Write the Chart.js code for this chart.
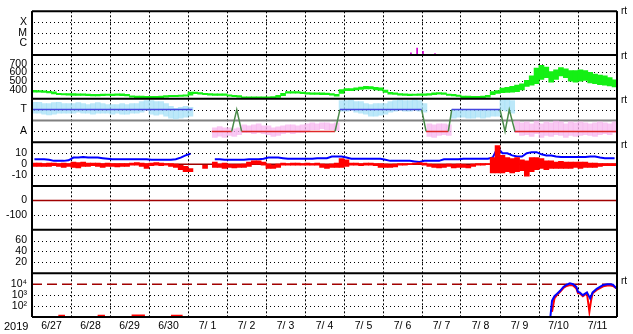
<!DOCTYPE html>
<html>
<head>
<meta charset="utf-8">
<script src="https://cdn.jsdelivr.net/npm/chart.js@4.4.1/dist/chart.umd.min.js"></script>
<style>
  html, body { margin: 0; padding: 0; background: #fff; }
  #wrap { position: relative; width: 633px; height: 334px; }
  #wrap canvas { position: absolute; left: 0; top: 0; }
  .lbl { position: absolute; font: 10px "Liberation Sans", Arial, sans-serif; color: #000; line-height: 12px; }
</style>
</head>
<body>
<div id="wrap">
  <canvas id="chart" width="633" height="334"></canvas>
  <div class="lbl" style="left:4px;top:320px;font-size:11px">2019</div>
  <div class="lbl" style="left:621px;top:5px">rt</div>
  <div class="lbl" style="left:621px;top:50px">rt</div>
  <div class="lbl" style="left:621px;top:94px">rt</div>
  <div class="lbl" style="left:621px;top:139px">rt</div>
  <div class="lbl" style="left:621px;top:275px">rt</div>
</div>
<script>
// time axis: hours since 6/27 00:00, 15 days
const dayLabels = ['6/27', '6/28', '6/29', '6/30', '7/ 1', '7/ 2', '7/ 3', '7/ 4', '7/ 5', '7/ 6', '7/ 7', '7/ 8', '7/ 9', '7/10', '7/11'];
const SPAN_HOURS = 360;
// 3-hour bins (centre hour of each bin)
const binHours = Array.from({ length: 120 }, (_, i) => i * 3 + 1.5);

// solar wind speed, km/s (low / high of each 3 h bin)
const speedLo = [
  375, 375, 372, 365, 355, 345, 342, 340,
  338, 338, 336, 335, 332, 332, 335, 336,
  334, 336, 335, 330, 316, 312, 312, 312,
  310, 310, 312, 318, 322, 322, 325, 328,
  340, 358, 352, 345, 340, 338, 338, 336,
  328, 322, 318, 306, 305, 305, 305, 306,
  305, 306, 315, 335, 362, 364, 362, 358,
  350, 348, 348, 346, 345, 340, 328, 360,
  392, 392, 400, 405, 410, 410, 400, 395,
  370, 350, 348, 340, 336, 334, 336, 338,
  338, 340, 346, 350, 348, 336, 332, 326,
  312, 312, 310, 310, 312, 318, 345, 360,
  368, 370, 375, 380, 400, 440, 455, 470,
  520, 540, 490, 520, 560, 540, 500, 490,
  500, 510, 480, 470, 460, 455, 445, 435
];
const speedHi = [
  395, 392, 390, 385, 378, 362, 358, 358,
  358, 356, 354, 352, 350, 350, 352, 352,
  352, 354, 354, 350, 332, 330, 328, 326,
  326, 326, 328, 335, 338, 338, 340, 345,
  375, 376, 370, 362, 358, 356, 356, 354,
  345, 338, 335, 322, 320, 320, 320, 322,
  322, 324, 338, 360, 382, 382, 380, 376,
  368, 366, 366, 366, 364, 358, 348, 405,
  414, 416, 425, 432, 440, 438, 430, 425,
  398, 372, 366, 358, 354, 352, 352, 355,
  356, 358, 366, 370, 366, 352, 348, 342,
  328, 328, 326, 326, 328, 338, 380, 392,
  420, 430, 440, 455, 470, 510, 560, 650,
  680, 660, 610, 630, 655, 640, 620, 620,
  630, 620, 600, 580, 570, 560, 540, 515
];

// IMF angle, degrees (low / high of each 3 h bin)
const phiLo = [
  240, 240, 232, 225, 232, 240, 240, 240,
  240, 248, 240, 240, 232, 240, 240, 240,
  232, 240, 232, 232, 240, 240, 248, 264,
  232, 224, 232, 216, 200, 192, 200, 208,
  216, null, null, null, null, 40, 50, 40,
  56, 48, 64, 80, 80, 72, 80, 72,
  64, 48, 56, 72, 80, 72, 80, 80,
  88, 104, 104, 112, 104, 104, 96, 256,
  256, 264, 248, 240, 232, 216, 216, 224,
  232, 248, 256, 264, 256, 256, 264, 256,
  248, 48, 40, 56, 64, 56, 200, 208,
  208, 200, 200, 208, 200, 208, 216, 216,
  264, 256, 240, 80, 56, 64, 48, 72,
  40, 56, 48, 64, 56, 40, 56, 48,
  56, 64, 56, 48, 64, 72, 64, 80
];
const phiHi = [
  330, 330, 320, 320, 328, 330, 320, 320,
  320, 328, 320, 312, 320, 328, 320, 312,
  312, 312, 320, 312, 320, 320, 336, 344,
  344, 336, 336, 320, 296, 280, 288, 296,
  288, null, null, null, null, 120, 130, 120,
  120, 112, 120, 144, 136, 144, 152, 136,
  136, 120, 128, 136, 144, 144, 136, 144,
  152, 160, 152, 160, 160, 152, 160, 344,
  344, 352, 336, 336, 320, 312, 320, 320,
  320, 336, 344, 352, 344, 344, 352, 344,
  320, 152, 144, 152, 152, 144, 272, 272,
  264, 272, 264, 272, 264, 272, 272, 272,
  352, 360, 344, 176, 160, 168, 152, 176,
  152, 168, 160, 176, 168, 152, 168, 160,
  168, 160, 152, 160, 168, 160, 152, 168
];

// sector polarity: 270 = T, 90 = A
const sectorHours = [0, 98.7, 99, 110.6, 122.9, 126, 129, 186.5, 189.5, 239.8, 242.5, 256.2, 258.3, 288, 291.1, 293.7, 297.2, 360];
const sectorPhi   = [270, 270, null, 90, 90, 270, 90, 90, 270, 270, 90, 90, 270, 270, 90, 270, 90, 90];

// IMF Bz (low / high of each 3 h bin) and Bt, nT
const bzLo = [
  -2, -2, -2, -2, -1.5, -2, -3, -2,
  -3, -3.5, -2, -2, -1.5, -2, -3, -2,
  -2, -2.5, -2, -2, -1, -1, -2, -4,
  -1.5, -1, -1.5, -1, -2, -3, -5, -7,
  -7, null, null, -4, null, -3, -3, -4,
  -3, -3.5, -3, -3, -2, 0, 0, -1,
  -4, -4, -3, -1, -1, -1, -1, -1,
  -1, -1, -1, -3, -4, -3, -3, -3,
  -2, -1, -1, -1.5, -1, -1, -1.5, -3,
  -3, -3, -2.5, -1, -1, -0.5, 0, 0,
  -1, -2, -3, -3.5, -3, -2, -3.5, -3,
  -3, -3.5, -2, -1, -1, -0.5, -8, -8,
  -8, -7, -8, -7, -6, -11, -7, -5,
  -4, -5, -4, -4, -4, -4, -4, -3,
  -4, -3, -3, -3, -2, -1.5, -1.5, -1.5
];
const bzHi = [
  1, 1, 0.5, 1, 1, 0.5, 1, 0.5,
  2, 1.5, 2, 1, 1, 1, 0.5, 1,
  0.5, 0.5, 0.5, 0.5, 1, 1.5, 1, 0.5,
  1, 1.5, 1, 0.5, 0.5, 0, -1, -2,
  -4, null, null, -1, null, 2, 0, 1,
  -0.5, -0.5, -0.5, 0, 2, 3, 3, 2,
  0, -1, 0, 1, 0.5, 1, 1, 0.5,
  1, 0.5, 1, 0, -0.5, 0, 1, 5,
  4, 1, 1, 0.5, 1, 1, 0.5, 0.5,
  0, -0.5, 0, 0.5, 0.5, 0.5, 1, 1.5,
  1, 0, -0.5, -0.5, -0.5, 0, -0.5, 0,
  -0.5, -1, 0, 0.5, 0.5, 0.5, 6, 17,
  8, 6, 5, 6, 4, 3, 6, 6,
  5, 3, 3, 2, 2.5, 2, 2, 2,
  2, 2, 1, 1, 0.5, 0.5, 0.5, 0.5
];
const bt = [
  4.5, 4.5, 4.5, 4, 3, 3, 3, 3.5,
  6, 6, 6.5, 6, 6, 6, 5.5, 5,
  4.5, 4.5, 4.5, 4.5, 4.5, 4.5, 4.5, 4.5,
  4, 4, 4, 4, 4, 4.5, 6, 8,
  9.5, null, null, 6.5, null, 4.5, 4.5, 4,
  4, 4, 4, 4, 4.5, 4.5, 4.5, 5,
  6, 6, 6, 5.5, 5, 5, 5, 5,
  5, 5, 5.5, 5.5, 5.5, 7, 7, 7,
  6, 5, 5, 5, 5, 5, 5, 5,
  4, 3, 3, 3, 3, 3, 2.5, 2,
  3, 3, 3, 3, 4.5, 4.5, 4.5, 4.5,
  5, 5, 5, 5, 5, 5, 6, 15,
  10, 10, 8, 7, 7, 10, 11, 11,
  9, 8, 8, 7, 6.5, 6.5, 6.5, 6.5,
  6.5, 6.5, 7, 7, 6, 5.5, 5.5, 5.5
];

// X-ray flux events, W/m2
const xrayHours = [233.2, 237, 240.6, 248];
const xrayFlux = [1.1e-7, 3.2e-7, 1.6e-7, 9.5e-8];
const XRAY_FLOOR = 7e-8;

// electron flux
const eBlueHours = [319, 320, 321.5, 323, 325, 327, 329, 331, 333, 335, 336, 337, 339, 341.5, 343.5, 345, 347.5, 349.5, 351.5, 354, 356, 357.5, 360];
const eBlue = [10, 300, 800, 1300, 2500, 5700, 9000, 12000, 10000, 5700, 2000, 1800, 1000, 1800, 500, 1800, 3800, 5700, 8500, 10000, 10000, 9000, 3800];
const eRedHours = [16.2, 20.3, 21, 40.4, 44.9, 45.5, 61.3, 69.5, 70, 85.5, 92.7, 93, 320, 321.5, 323, 325, 327, 329, 331, 333, 335, 336, 337, 339, 341.5, 343, 344, 345, 347.5, 349.5, 351.5, 354, 356, 357.5, 360];
const eRed = [13, 13, null, 13, 13, null, 14, 14, null, 13, 13, null, 30, 500, 1000, 2000, 4500, 7000, 8500, 7500, 4000, 1500, 1500, 800, 1500, 30, 300, 1500, 3000, 4500, 6500, 7500, 7500, 7000, 4000];
const E_ALERT = 10000;

const FONT = { family: '"Liberation Sans", Arial, sans-serif', size: 10.5 };
const PANEL_IDS = ['yX', 'yV', 'yP', 'yB', 'yD', 'yK', 'yE'];
// dotted guide lines per panel (values where no reference line is drawn)
const DOTTED = { yX: [1e-6, 1e-5, 1e-4], yV: [400, 500, 600, 700], yP: [90, 270], yB: [-10, 10], yD: [-100], yK: [20, 40, 60], yE: [100, 1000] };

const pairs = (xs, lo, hi) => xs.map((x, i) => ({ x, y: lo[i] === null ? null : [lo[i], hi[i]] })).filter(p => p.y !== null);
const points = (xs, ys) => xs.map((x, i) => ({ x, y: ys[i] }));
const level = v => [{ x: 0, y: v }, { x: SPAN_HOURS, y: v }];

function panel(type, min, max, tickVals, tickLabels) {
  return {
    type, min, max,
    position: 'left',
    stack: 'panels',
    stackWeight: 1,
    afterBuildTicks: s => { s.ticks = tickVals.map(v => ({ value: v })); },
    afterFit: s => { s.width = 32; },
    ticks: { color: '#000', font: FONT, padding: 5, autoSkip: false, callback: (v, i) => tickLabels[i] },
    grid: { display: false, drawTicks: false },
    border: { display: false }
  };
}

const framePlugin = {
  id: 'frame',
  beforeDatasetsDraw(chart) {
    const { ctx, chartArea: a, scales } = chart;
    ctx.save();
    ctx.fillStyle = '#000';
    Object.keys(DOTTED).forEach(id => {
      DOTTED[id].forEach(v => {
        const y = Math.round(scales[id].getPixelForValue(v));
        for (let x = a.left + 2; x < a.right; x += 4) ctx.fillRect(x, y, 1, 1);
      });
    });
    ctx.restore();
  },
  afterDatasetsDraw(chart) {
    const { ctx, chartArea: a, scales } = chart;
    ctx.save();
    ctx.strokeStyle = '#000';
    ctx.lineWidth = 2;
    ctx.beginPath();
    PANEL_IDS.forEach(id => { ctx.moveTo(a.left, scales[id].top); ctx.lineTo(a.right, scales[id].top); });
    ctx.moveTo(a.left, a.bottom); ctx.lineTo(a.right, a.bottom);
    ctx.moveTo(a.left, a.top); ctx.lineTo(a.left, a.bottom);
    ctx.moveTo(a.right, a.top); ctx.lineTo(a.right, a.bottom);
    ctx.stroke();
    ctx.restore();
  }
};

const phiColors = phiLo.filter(v => v !== null).map(lo => lo > 180 ? 'rgba(160,222,246,0.7)' : 'rgba(246,176,238,0.7)');
const flat = { pointRadius: 0, borderWidth: 1.5 };

new Chart(document.getElementById('chart'), {
  type: 'line',
  data: {
    datasets: [
      {
        data: points(sectorHours, sectorPhi), yAxisID: 'yP', borderWidth: 1.5, pointRadius: 0, spanGaps: false,
        segment: {
          borderColor: c => {
            const a = c.p0.parsed.y, b = c.p1.parsed.y;
            if (a === 270 && b === 270) return '#4646e0';
            if (a === 90 && b === 90) return '#e02828';
            return '#4a8a4a';
          }
        }
      },
      { type: 'bar', data: pairs(binHours, phiLo, phiHi), yAxisID: 'yP', backgroundColor: phiColors, barThickness: 5, grouped: false },
      { type: 'bar', data: xrayHours.map((x, i) => ({ x, y: [XRAY_FLOOR, xrayFlux[i]] })), yAxisID: 'yX', backgroundColor: '#d000d0', barThickness: 1, grouped: false },
      { type: 'bar', data: pairs(binHours, speedLo, speedHi), yAxisID: 'yV', backgroundColor: '#14f014', barThickness: 5, grouped: false },
      { type: 'bar', data: pairs(binHours, bzLo, bzHi), yAxisID: 'yB', backgroundColor: '#ff0000', barThickness: 5, grouped: false },
      { data: points(binHours, bt), yAxisID: 'yB', borderColor: '#0000ff', borderWidth: 2, pointRadius: 0, spanGaps: false },
      { data: points(eBlueHours, eBlue), yAxisID: 'yE', borderColor: '#0000ff', borderWidth: 2, pointRadius: 0 },
      { data: points(eRedHours, eRed), yAxisID: 'yE', borderColor: '#ff0000', borderWidth: 2, pointRadius: 0, spanGaps: false },
      // reference levels
      { data: level(180), yAxisID: 'yP', borderColor: '#808080', ...flat, borderWidth: 2 },
      { data: level(0), yAxisID: 'yB', borderColor: '#a00000', ...flat },
      { data: level(0), yAxisID: 'yD', borderColor: '#a00000', ...flat },
      { data: level(E_ALERT), yAxisID: 'yE', borderColor: '#a00000', borderDash: [10, 5], ...flat }
    ]
  },
  options: {
    responsive: false,
    animation: false,
    devicePixelRatio: 1,
    layout: { padding: { top: 2, right: 16, left: 0, bottom: 0 } },
    plugins: { legend: { display: false }, tooltip: { enabled: false } },
    scales: {
      x: {
        type: 'linear', min: 0, max: SPAN_HOURS, offset: false,
        afterFit: s => { s.height = 17; },
        ticks: {
          stepSize: 12, autoSkip: false, maxRotation: 0, color: '#000', font: FONT, padding: 3,
          callback: v => (v % 24 === 12 ? dayLabels[(v - 12) / 24] : '')
        },
        grid: { offset: false, drawTicks: false, color: ctx => (ctx.tick && ctx.tick.value % 24 === 0 ? '#000' : 'rgba(0,0,0,0)') },
        border: { display: false, dash: [2, 2] }
      },
      // stacked panels are laid out bottom-up in definition order
      yE: panel('logarithmic', 10, 1e5, [100, 1000, 10000], ['10²', '10³', '10⁴']),
      yK: panel('linear', 0, 80, [20, 40, 60], ['20', '40', '60']),
      yD: panel('linear', -200, 100, [-100, 0], ['-100', '0']),
      yB: panel('linear', -20, 20, [-10, 0, 10], ['-10', '0', '10']),
      yP: panel('linear', 0, 360, [90, 180, 270], ['A', '', 'T']),
      yV: panel('linear', 300, 800, [400, 500, 600, 700], ['400', '500', '600', '700']),
      yX: panel('logarithmic', XRAY_FLOOR, 1.15e-3, [1e-6, 1e-5, 1e-4], ['C', 'M', 'X'])
    }
  },
  plugins: [framePlugin]
});
</script>
</body>
</html>
